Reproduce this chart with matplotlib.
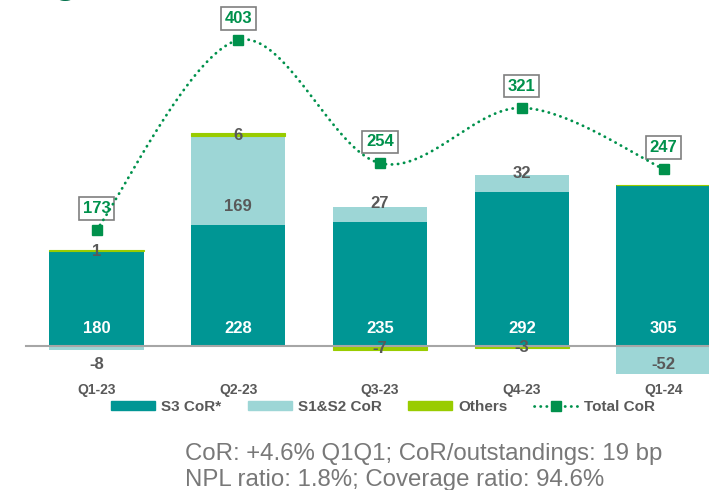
import numpy as np
import matplotlib
matplotlib.use('Agg')
import matplotlib.pyplot as plt
from matplotlib.patches import Patch
from matplotlib.lines import Line2D

plt.rcParams['font.family'] = ['Liberation Sans', 'DejaVu Sans']

# data
quarters = ['Q1-23', 'Q2-23', 'Q3-23', 'Q4-23', 'Q1-24']
s3_cor = [180, 228, 235, 292, 305]
s12_cor = [-8, 169, 27, 32, -52]
others = [1, 6, -7, -3, 0]
total_cor = [173, 403, 254, 321, 247]

TEAL = '#009694'
LIGHT = '#9dd6d6'
LIME = '#99cc00'
GREEN = '#00914c'
GREY = '#595959'


def smooth_curve(xs, ys, steps=40):
    # excel-like smoothed line (bezier through the points)
    pts = np.column_stack([xs, ys]).astype(float)
    ext = np.vstack([pts[0], pts, pts[-1]])
    out = []
    for i in range(1, len(ext) - 2):
        p0, p1, p2, p3 = ext[i - 1], ext[i], ext[i + 1], ext[i + 2]
        c1 = p1 + (p2 - p0) / 6
        c2 = p2 - (p3 - p1) / 6
        t = np.linspace(0, 1, steps)[:, None]
        seg = (1 - t) ** 3 * p1 + 3 * (1 - t) ** 2 * t * c1 + 3 * (1 - t) * t ** 2 * c2 + t ** 3 * p2
        out.append(seg if i == 1 else seg[1:])
    return np.vstack(out)


fig = plt.figure(figsize=(7.09, 4.90), dpi=100)
ax = fig.add_axes([0, 110 / 490, 1, 380 / 490])
ax2 = ax.twinx()

x = np.arange(len(quarters))
s3 = np.array(s3_cor, dtype=float)
s12 = np.array(s12_cor, dtype=float)
oth = np.array(others, dtype=float)

pos_top = s3.copy()
neg_bot = np.zeros(len(x))
s12_bottom = np.where(s12 >= 0, pos_top, neg_bot)
pos_top = pos_top + np.clip(s12, 0, None)
neg_bot = neg_bot + np.clip(s12, None, 0)
oth_bottom = np.where(oth >= 0, pos_top, neg_bot)

w = 0.665
ax.bar(x, s3, width=w, color=TEAL, zorder=2)
ax.bar(x, s12, width=w, bottom=s12_bottom, color=LIGHT, zorder=2)
ax.bar(x, oth, width=w, bottom=oth_bottom, color=LIME, edgecolor=LIME, linewidth=0.8, zorder=2)

ax.plot([-0.5, 5], [0, 0], color='#a6a6a6', lw=1.5, zorder=2.5)

for xi, v in zip(x, s3_cor):
    ax.annotate(str(v), (xi, 0), xytext=(0, 12.3), textcoords='offset points',
                ha='center', va='center', color='white', fontsize=12, fontweight='bold', zorder=3)
for xi, v, b in zip(x, s12_cor, s12_bottom):
    off = 13.3 if v >= 0 else -13.3
    ax.annotate(str(v), (xi, b), xytext=(0, off), textcoords='offset points',
                ha='center', va='center', color=GREY, fontsize=12, fontweight='bold', zorder=3)
for xi, v, b in zip(x, others, oth_bottom):
    if v == 0:
        continue
    ax.annotate(str(v), (xi, b + v / 2), xytext=(0, -0.5), textcoords='offset points',
                ha='center', va='center', color=GREY, fontsize=12, fontweight='bold', zorder=3)

ax.set_xlim(-96.5 / 141.75, (709 - 96.5) / 141.75)
ax.set_ylim(-(380 - 346) / 0.529, 346 / 0.529)
ax2.set_ylim(-(380 - 373) / 0.826, 373 / 0.826)

curve = smooth_curve(x, total_cor)
ax2.plot(curve[:, 0], curve[:, 1], color=GREEN, lw=2, linestyle=(0, (0.1, 2.1)),
         dash_capstyle='round', zorder=4)
ax2.plot(x, total_cor, 's', color=GREEN, ms=6.5, zorder=5)
for xi, v in zip(x, total_cor):
    ax2.annotate(str(v), (xi, v), xytext=(0, 15.5), textcoords='offset points',
                 ha='center', va='center', color=GREEN, fontsize=12, fontweight='bold', zorder=3,
                 bbox=dict(boxstyle='square,pad=0.22', fc='white', ec='#7f7f7f', lw=1.2))

ax.set_xticks(x)
ax.set_xticklabels(quarters, fontweight='bold')
ax.tick_params(axis='x', length=0, pad=2, labelsize=10, labelcolor=GREY)
ax.set_yticks([])
ax2.set_yticks([])
for a in (ax, ax2):
    for s in a.spines.values():
        s.set_visible(False)
    a.patch.set_visible(False)

handles = [Patch(color=TEAL), Patch(color=LIGHT), Patch(color=LIME),
           Line2D([], [], color=GREEN, lw=2, linestyle=(0, (0.1, 2.1)), dash_capstyle='round',
                  marker='s', ms=6.5)]
labels = ['S3 CoR*', 'S1&S2 CoR', 'Others', 'Total CoR']
fig.legend(handles, labels, loc='center', bbox_to_anchor=(383 / 709, 1 - 407 / 490), ncol=4,
           frameon=False, prop={'size': 11, 'weight': 'bold'}, labelcolor=GREY,
           handlelength=2.9, handleheight=0.55, columnspacing=1.7, handletextpad=0.4)

fig.text(185 / 709, 1 - 460 / 490, 'CoR: +4.6% Q1Q1; CoR/outstandings: 19 bp',
         fontsize=17.3, color='#787878', va='baseline', ha='left')
fig.text(185 / 709, 1 - 486 / 490, 'NPL ratio: 1.8%; Coverage ratio: 94.6%',
         fontsize=17.3, color='#787878', va='baseline', ha='left')

# bottom of the cut-off title
fig.text(52 / 709, 1 + 7.5 / 490, 'g', fontsize=30, fontweight='bold', color='#00704a',
         va='baseline', ha='left')

fig.savefig('out.png', dpi=100)
